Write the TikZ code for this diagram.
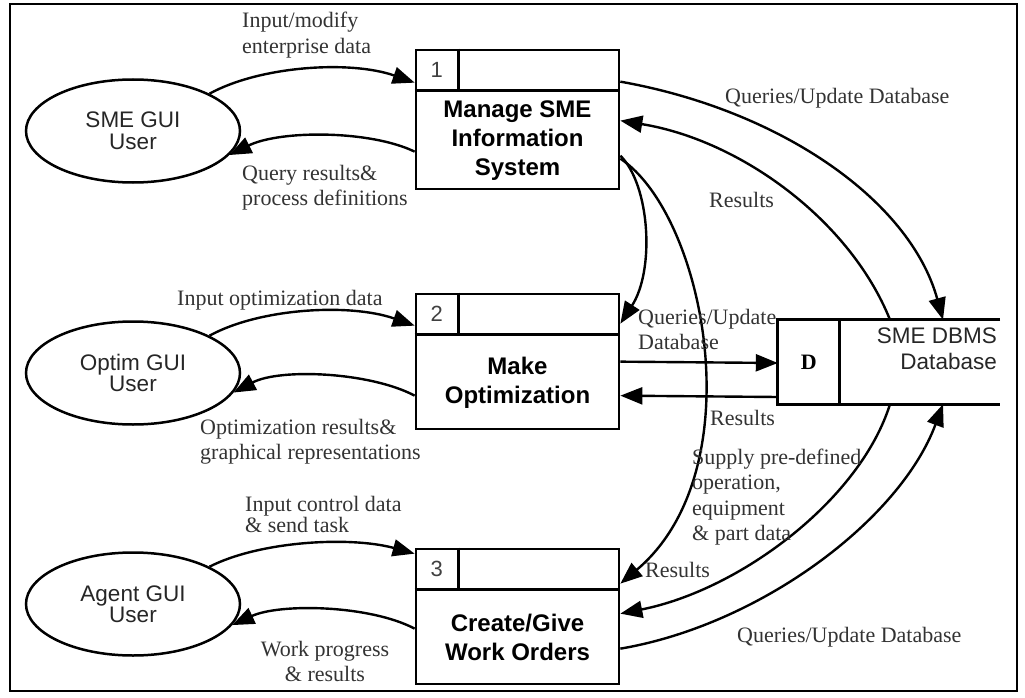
\documentclass[tikz,border=0pt]{standalone}
\usepackage{fontspec}
\setmainfont{Liberation Serif}
\setsansfont{Liberation Sans}
\usetikzlibrary{shapes.geometric,arrows.meta}
\begin{document}
\begin{tikzpicture}[x=1pt,y=-1pt,
  flow/.style={line width=2.4pt,-{Triangle[length=22pt,width=17pt]}},
  edge/.style={line width=2.7pt},
  proc/.style={draw,line width=2.7pt,rectangle,minimum width=203pt,inner sep=0pt},
  user/.style={draw,ellipse,line width=2.5pt,minimum width=214pt,minimum height=103pt,
    inner sep=0pt,align=center,text=black!85,font=\sffamily\fontsize{22.5}{21.5}\selectfont},
  ptitle/.style={align=center,inner sep=0pt,font=\sffamily\bfseries\fontsize{24}{29}\selectfont},
  pnum/.style={inner sep=0pt,text=black!75,font=\sffamily\fontsize{22}{26}\selectfont},
  lbl/.style={inner sep=0pt,align=left,anchor=west,text=black!80,font=\fontsize{22}{25.5}\selectfont},
]
\useasboundingbox (0,0) rectangle (1025,698);
% outer frame
\draw[line width=2.4pt] (10,4) rectangle (1017,691);

% external users
\node[user] (e1) at (133,131) {SME GUI\\User};
\node[user] (e2) at (133,373) {Optim GUI\\User};
\node[user] (e3) at (133,604) {Agent GUI\\User};

% processes
\node[proc,minimum height=139pt] (b1) at (517.5,119.5) {};
\node[proc,minimum height=135pt] (b2) at (517.5,361.5) {};
\node[proc,minimum height=135pt] (b3) at (517.5,616.5) {};
\foreach \b in {b1,b2,b3} {
  \draw[edge] ([yshift=-42pt]\b.north west) -- ([yshift=-42pt]\b.north east);
  \draw[edge] ([xshift=44pt]\b.north west) -- ([xshift=44pt,yshift=-42pt]\b.north west);
}
\node[pnum] (n1) at ([xshift=22pt,yshift=-21pt]b1.north west) {1};
\node[pnum] (n2) at ([xshift=22pt,yshift=-21pt]b2.north west) {2};
\node[pnum] (n3) at ([xshift=22pt,yshift=-21pt]b3.north west) {3};
\node[ptitle] (t1) at ([yshift=-21pt]b1.center) {Manage SME\\Information\\System};
\node[ptitle] (t2) at ([yshift=-21pt]b2.center) {Make\\Optimization};
\node[ptitle] (t3) at ([yshift=-21pt]b3.center) {Create/Give\\Work Orders};

% data store
\node[minimum width=222pt,minimum height=84pt,inner sep=0pt] (st) at (889,362) {};
\draw[edge] (st.north east) -- (st.north west) -- (st.south west) -- (st.south east);
\draw[edge] ([xshift=62pt]st.north west) -- ([xshift=62pt]st.south west);
\node[inner sep=0pt,font=\bfseries\fontsize{22}{26}\selectfont] (sd) at ([xshift=31pt]st.west) {D};
\node[inner sep=0pt,anchor=east,align=right,text=black!85,font=\sffamily\fontsize{22.5}{26}\selectfont]
  (sl) at (997,349) {SME DBMS\\Database};

% user <-> process flows
\draw[flow] (e1.26) .. controls (260,66) and (350,60) .. ([yshift=-34pt]b1.north west);
\draw[flow] ([yshift=-103pt]b1.north west) .. controls (370,130) and (280,130) .. (e1.-14);
\draw[flow] (e2.26) .. controls (260,308) and (350,303) .. ([yshift=-33pt]b2.north west);
\draw[flow] ([yshift=-103pt]b2.north west) .. controls (370,372) and (280,368) .. (e2.-11);
\draw[flow] (e3.26) .. controls (260,541) and (350,536) .. ([yshift=-6pt]b3.north west);
\draw[flow] ([yshift=-81pt]b3.north west) .. controls (370,605) and (280,603) .. (e3.-12);

% process <-> store flows
\draw[flow] ([yshift=-33pt]b1.north east) .. controls (780,110) and (910,200) .. ([xshift=54pt]st.north);
\draw[flow] ([xshift=1pt]st.north) .. controls (850,220) and (740,140) .. ([yshift=-72pt]b1.north east);
\draw[flow] ([yshift=-107pt]b1.north east) .. controls (650,185) and (655,270) .. ([yshift=-31pt]b2.north east);
\draw[flow] ([yshift=-110pt]b1.north east) .. controls (705,215) and (755,470) .. ([yshift=-36pt]b3.north east);
\draw[flow] ([yshift=-69pt]b2.north east) -- ([yshift=-1pt]st.west);
\draw[flow] ([yshift=-35pt]st.west) -- ([yshift=-103pt]b2.north east);
\draw[flow] ([xshift=1pt]st.south) .. controls (860,500) and (740,590) .. ([yshift=-66pt]b3.north east);
\draw[flow] ([yshift=-101pt]b3.north east) .. controls (760,625) and (900,520) .. ([xshift=54pt]st.south);

% flow labels
\node[lbl] (l1) at (242,35) {Input/modify\\enterprise data};
\node[lbl] (l2) at (242,187.5) {Query results\&\\process definitions};
\node[lbl] (l3) at (177,300) {Input optimization data};
\node[lbl] (l4) at (200,441.5) {Optimization results\&\\graphical representations};
\node[lbl,font=\fontsize{22}{19}\selectfont] (l5) at (245,514) {Input control data\\\& send task};
\node[lbl,align=center,anchor=center] (l6) at (325,661.5) {Work progress\\\& results};
\node[lbl] (l7) at (725,98) {Queries/Update Database};
\node[lbl] (l8) at (709,200) {Results};
\node[lbl] (l9) at (638,329.5) {Queries/Update\\Database};
\node[lbl] (l10) at (710,418) {Results};
\node[lbl] (l11) at (692,497) {Supply pre-defined\\operation,\\equipment\\\& part data};
\node[lbl] (l12) at (645,570) {Results};
\node[lbl] (l13) at (737,637) {Queries/Update Database};
\end{tikzpicture}
\end{document}
